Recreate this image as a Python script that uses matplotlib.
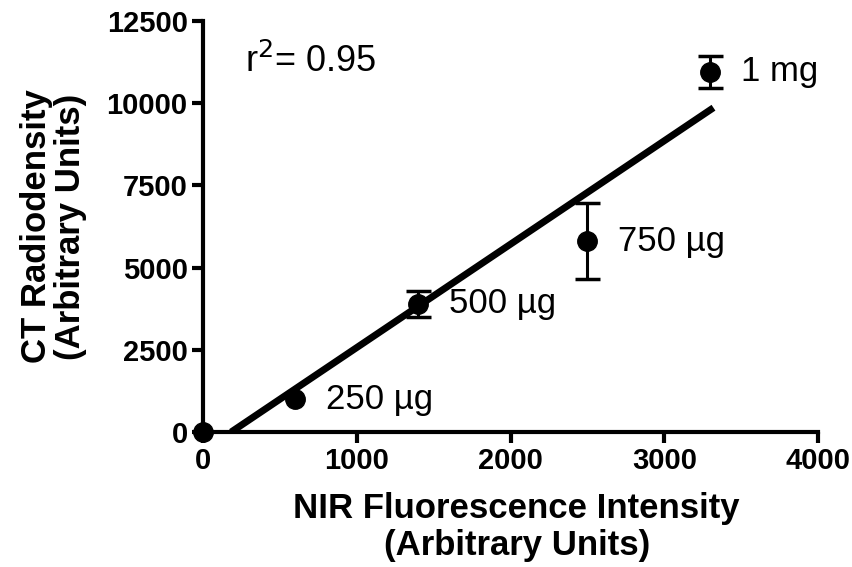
import numpy as np
import matplotlib
matplotlib.use("Agg")
import matplotlib.pyplot as plt

# NIR fluorescence vs CT radiodensity
nir = [0, 600, 1400, 2500, 3300]
ct = [0, 1000, 3900, 5800, 10950]
ct_err = [0, 0, 400, 1150, 500]
labels = ["", "250 µg", "500 µg", "750 µg", "1 mg"]
r2_text = "r$^2$= 0.95"

plt.rcParams['font.family'] = ['Liberation Sans', 'DejaVu Sans']

fig = plt.figure(figsize=(8.53, 5.67), dpi=100)
ax = fig.add_axes([0.238, 0.238, 0.721, 0.725])

# linear fit drawn from x-intercept to the last point
slope, intercept = np.polyfit(nir, ct, 1)
x0 = -intercept / slope
xs = np.array([x0, max(nir) + 20])
ax.plot(xs, slope * xs + intercept, color='black', lw=5, solid_capstyle='butt',
        zorder=2)

# points without error bars
noerr = [i for i, e in enumerate(ct_err) if e == 0]
witherr = [i for i, e in enumerate(ct_err) if e > 0]
ax.plot([nir[i] for i in noerr], [ct[i] for i in noerr], 'o', color='black',
        ms=14, clip_on=False, zorder=3)
ax.errorbar([nir[i] for i in witherr], [ct[i] for i in witherr],
            yerr=[ct_err[i] for i in witherr], fmt='o', color='black', ms=14,
            elinewidth=2.2, capsize=9, capthick=2.5, clip_on=False, zorder=3)

for x, y, t in zip(nir, ct, labels):
    if t:
        ax.annotate(t, (x, y), xytext=(22, 0), textcoords='offset points',
                    va='center', ha='left', fontsize=25)

ax.text(0.068, 0.9, r2_text, transform=ax.transAxes, fontsize=26,
        va='center', ha='left')

ax.set_xlim(0, 4000)
ax.set_ylim(0, 12500)
ax.set_xticks([0, 1000, 2000, 3000, 4000])
ax.set_yticks([0, 2500, 5000, 7500, 10000, 12500])

for s in ['top', 'right']:
    ax.spines[s].set_visible(False)
for s in ['left', 'bottom']:
    ax.spines[s].set_linewidth(3)
ax.tick_params(width=3, length=8, labelsize=21, pad=3)
for lab in ax.get_xticklabels() + ax.get_yticklabels():
    lab.set_fontweight('bold')

ax.set_xlabel("NIR Fluorescence Intensity\n(Arbitrary Units)",
              fontweight='bold', fontsize=25, linespacing=1.15)
ax.xaxis.set_label_coords(0.51, -0.145, transform=ax.transAxes)
ax.xaxis.label.set_va('top')
ax.set_ylabel("CT Radiodensity\n(Arbitrary Units)",
              fontweight='bold', fontsize=25, linespacing=1.05, labelpad=14)

plt.savefig("out.png", dpi=100)
